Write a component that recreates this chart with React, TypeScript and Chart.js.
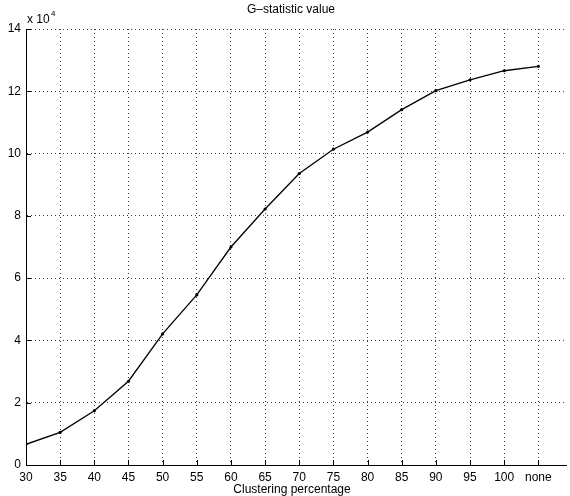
import React, { useEffect, useRef } from "react";
import { Chart, registerables } from "chart.js";

Chart.register(...registerables);

const categories = ["30", "35", "40", "45", "50", "55", "60", "65", "70", "75", "80", "85", "90", "95", "100", "none"];
const gValues = [6650, 10500, 17400, 26900, 42100, 54600, 70000, 82200, 93600, 101400, 106900, 114100, 120200, 123700, 126600, 128000];
const yTickValues = [0, 2, 4, 6, 8, 10, 12, 14];
const titleText = "G\u2013statistic value";
const xAxisTitle = "Clustering percentage";

const FONT = "'Liberation Sans', Arial, Helvetica, sans-serif";

const decorPlugin = {
  id: "matlabDecor",
  afterDraw(chart: any) {
    const ctx = chart.ctx;
    const area = chart.chartArea;
    const xs = chart.scales.x;
    const ys = chart.scales.y;
    ctx.save();
    ctx.strokeStyle = "#000";
    ctx.lineWidth = 1;
    ctx.beginPath();
    xs.ticks.forEach((t: any) => {
      const px = Math.round(xs.getPixelForValue(t.value)) + 0.5;
      ctx.moveTo(px, area.bottom);
      ctx.lineTo(px, area.bottom - 5);
    });
    ys.ticks.forEach((t: any) => {
      const py = Math.round(ys.getPixelForValue(t.value)) + 0.5;
      ctx.moveTo(area.left, py);
      ctx.lineTo(area.left + 5, py);
    });
    ctx.stroke();
    ctx.fillStyle = "#000";
    ctx.font = `12px ${FONT}`;
    ctx.textAlign = "center";
    ctx.textBaseline = "middle";
    ctx.fillText(titleText, 291, 10);
    ctx.fillText(xAxisTitle, 292, 490);
    ctx.textAlign = "left";
    ctx.fillText("x 10", 27, 20);
    ctx.font = `8px ${FONT}`;
    ctx.fillText("4", 51, 14);
    ctx.restore();
  },
};

export default function App() {
  const ref = useRef<HTMLCanvasElement | null>(null);
  useEffect(() => {
    if (!ref.current) return;
    const chart = new Chart(ref.current, {
      type: "line",
      data: {
        datasets: [
          {
            data: categories.map((_, i) => ({ x: i + 1, y: gValues[i] / 10000 })),
            borderColor: "#000",
            backgroundColor: "#000",
            borderWidth: 1.3,
            pointRadius: 1.6,
            pointBorderWidth: 0,
            pointBackgroundColor: "#000",
            tension: 0,
            fill: false,
          },
        ],
      },
      options: {
        animation: false,
        responsive: false,
        devicePixelRatio: 1,
        layout: { padding: { top: 29, left: 0, right: 0, bottom: 0 } },
        plugins: {
          legend: { display: false },
          title: { display: false },
          tooltip: { enabled: false },
        },
        scales: {
          x: {
            type: "linear",
            min: 1,
            max: 16.81,
            afterFit: (s: any) => {
              s.height = 31;
            },
            afterBuildTicks: (s: any) => {
              s.ticks = categories.map((_, i) => ({ value: i + 1 }));
            },
            ticks: {
              autoSkip: false,
              maxRotation: 0,
              padding: 5,
              color: "#000",
              font: { family: FONT, size: 12 },
              callback: (v: any) => categories[Math.round(Number(v)) - 1] ?? "",
            },
            grid: { color: "rgba(0,0,0,0.75)", lineWidth: 1, drawTicks: false },
            border: { display: true, color: "#000", width: 1, dash: [1, 3] },
          },
          y: {
            type: "linear",
            min: 0,
            max: 14,
            afterFit: (s: any) => {
              s.width = 26;
            },
            afterBuildTicks: (s: any) => {
              s.ticks = yTickValues.map((v) => ({ value: v }));
            },
            ticks: {
              autoSkip: false,
              padding: 5,
              color: "#000",
              font: { family: FONT, size: 12 },
              callback: (v: any) => String(v),
            },
            grid: { color: "rgba(0,0,0,0.75)", lineWidth: 1, drawTicks: false },
            border: { display: true, color: "#000", width: 1, dash: [1, 3] },
          },
        },
      },
      plugins: [decorPlugin],
    });
    return () => chart.destroy();
  }, []);
  return (
    <div style={{ position: "absolute", left: 0, top: 0, width: 570, height: 496, background: "#fff" }}>
      <canvas ref={ref} width={570} height={496} style={{ width: 570, height: 496, display: "block" }} />
    </div>
  );
}
